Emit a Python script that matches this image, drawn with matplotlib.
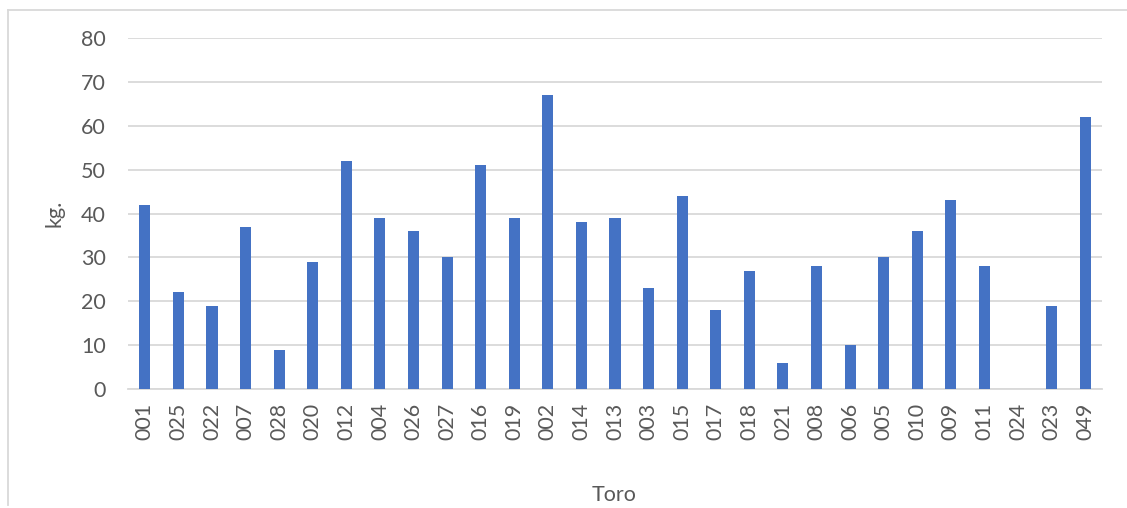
import matplotlib.pyplot as plt
from matplotlib.lines import Line2D

toros = ["001", "025", "022", "007", "028", "020", "012", "004", "026", "027",
         "016", "019", "002", "014", "013", "003", "015", "017", "018", "021",
         "008", "006", "005", "010", "009", "011", "024", "023", "049"]
kg = [42, 22, 19, 37, 9, 29, 52, 39, 36, 30,
      51, 39, 67, 38, 39, 23, 44, 18, 27, 6,
      28, 10, 30, 36, 43, 28, 0, 19, 62]
yticks = [0, 10, 20, 30, 40, 50, 60, 70, 80]

plt.rcParams["font.family"] = ["Lato", "DejaVu Sans"]
text_color = "#595959"
grid_color = "#d9d9d9"

fig = plt.figure(figsize=(11.27, 5.08), dpi=100)
ax = fig.add_axes([128 / 1127, 1 - 389 / 508, 974 / 1127, 351 / 508])

x = range(len(toros))
ax.bar(x, kg, width=0.33, color="#4472c4", zorder=3)

ax.set_xlim(-0.5, len(toros) - 0.5)
ax.set_ylim(0, 80)
ax.set_yticks(yticks)
ax.set_xticks(list(x))
ax.set_xticklabels(toros, rotation=90)
ax.tick_params(axis="both", length=0, colors=text_color, labelsize=15.5)
ax.tick_params(axis="x", pad=10)
ax.tick_params(axis="y", pad=16)
ax.grid(axis="y", color=grid_color, linewidth=1.3, zorder=0)
for side in ["top", "right", "left"]:
    ax.spines[side].set_visible(False)
ax.spines["bottom"].set_color(grid_color)
ax.spines["bottom"].set_linewidth(1.3)

ax.set_ylabel("kg.", fontsize=15.5, color=text_color, labelpad=12)
fig.text(614 / 1127, 1 - 495 / 508, "Toro", fontsize=15.5, color=text_color,
         ha="center", va="center")

# chart frame
fig.add_artist(Line2D([8 / 1127, 1], [1 - 10 / 508] * 2, color=grid_color,
                      linewidth=1.3, transform=fig.transFigure))
fig.add_artist(Line2D([8 / 1127] * 2, [1 - 10 / 508, 1 - 505 / 508],
                      color=grid_color, linewidth=1.3, transform=fig.transFigure))

fig.savefig("out.png", dpi=100)
